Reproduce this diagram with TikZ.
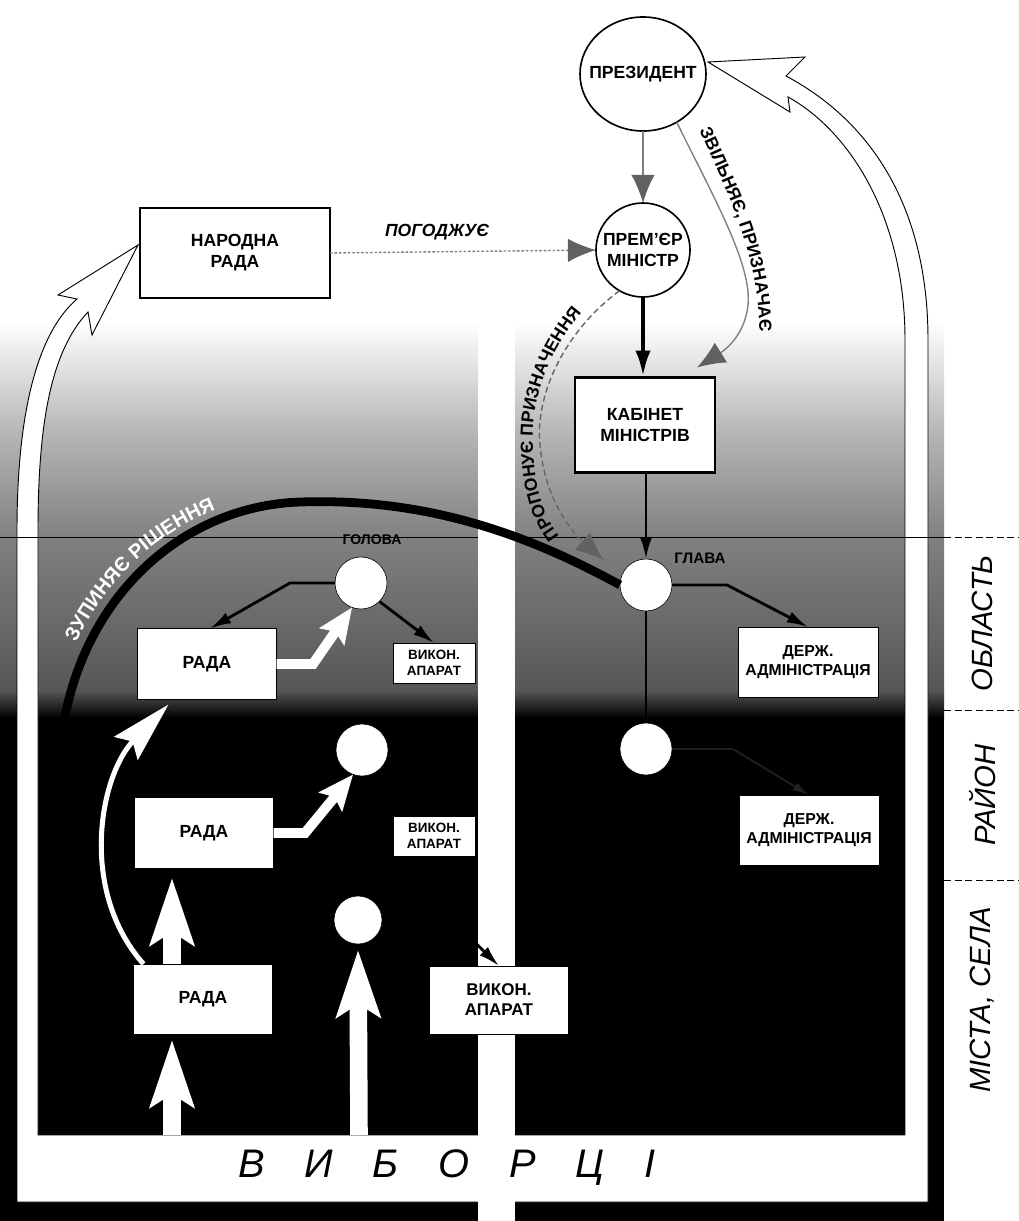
\documentclass[tikz,border=0pt]{standalone}
\usepackage{fontspec}
\setmainfont{Liberation Sans}
\usetikzlibrary{arrows.meta,calc,decorations.text,shapes.geometric}
\newcommand\PX{*0.03cm}
\newcommand\lblfont{\bfseries\fontsize{15}{18}\selectfont}
\newcommand\pathfont{\bfseries\fontsize{15}{15}\selectfont}
\newcommand\zupfont{\bfseries\fontsize{17}{17}\selectfont}
\tikzset{
  nb/.style={inner sep=0pt, outer sep=0pt, align=center},
  topbox/.style={nb, rectangle, draw=black, line width=2.4pt, fill=white, font=\lblfont},
  bigcirc/.style={nb, circle, draw=black, line width=1.4pt, fill=white, font=\lblfont},
  wdot/.style={nb, circle, draw=black, line width=0.5pt, fill=white, minimum size=52\PX},
  radabox/.style={nb, rectangle, draw=black, line width=0.5pt, fill=white, minimum width=139\PX, minimum height=71\PX, font=\bfseries\fontsize{15}{18}\selectfont},
  vykbox/.style={nb, rectangle, draw=black, line width=0.5pt, fill=white, minimum width=82\PX, minimum height=40\PX, font=\bfseries\fontsize{11.5}{13.5}\selectfont},
  derzhbox/.style={nb, rectangle, draw=black, line width=0.5pt, fill=white, minimum width=140\PX, minimum height=70\PX, font=\bfseries\fontsize{13.5}{16}\selectfont},
  tagtxt/.style={nb, font=\bfseries\fontsize{12}{12}\selectfont},
  lvltxt/.style={nb, rotate=90, font=\itshape\fontsize{25}{25}\selectfont},
  blkarr/.style={draw=black, line width=2.4pt, -{Latex[length=18pt,width=10pt]}},
  heavyarr/.style={draw=black, line width=4.2pt, -{Latex[length=23pt,width=13pt]}},
  grayarr/.style={draw=black!50, line width=1.2pt, -{Latex[length=24pt,width=20pt,color=black!62]}},
  dotarr/.style={grayarr, dash pattern=on 2.2pt off 1.6pt},
  dasharr/.style={grayarr, draw=black!60, dash pattern=on 5pt off 3pt},
  wfat/.style={white, line width=15pt, -{Stealth[length=57pt,width=37pt,inset=11pt,color=white]}},
  welbow/.style={white, line width=8.5pt, -{Stealth[length=30pt,width=25pt,inset=5pt,color=white]}},
  wthin/.style={white, line width=4.3pt, -{Stealth[length=52pt,width=28pt,inset=8pt,color=white]}},
  ribbon/.style={fill=white, draw=black, line width=0.8pt, line join=miter},
  levelline/.style={draw=black, line width=0.6pt},
  leveldash/.style={draw=black, line width=0.8pt, dash pattern=on 6pt off 3pt}
}
\begin{document}
\begin{tikzpicture}[x=0.03cm,y=-0.03cm]
\useasboundingbox (0,0) rectangle (1019,1221);
% background (landscape gradient)
\shade[top color=white, bottom color=black!28] (0,322) rectangle (944,430);
\shade[top color=black!28, bottom color=black!50] (0,430) rectangle (944,540);
\shade[top color=black!50, bottom color=black!66] (0,540) rectangle (944,690);
\shade[top color=black!66, bottom color=black] (0,690) rectangle (944,718);
\fill[black] (0,718) rectangle (944,1221);

% voters ribbon (U-shaped wide arrow)
\filldraw[ribbon] (138,245) -- (58,295) -- (77,299) .. controls (35,335) and (17,420) .. (17,530)
  -- (17,1202) -- (928,1202) -- (928,340) .. controls (928,200) and (865,118) .. (786,76)
  -- (805,57) -- (708,62) -- (790,112) -- (788,97) .. controls (848,130) and (905,215) .. (905,340)
  -- (905,1135) -- (38,1135) -- (38,530) .. controls (38,420) and (52,350) .. (88,312)
  -- (92,335) -- cycle;

% middle white bar
\fill[white] (478,322) rectangle (515,1221);

% level separators
\draw[levelline] (0,537) -- (478,537) (515,537) -- (944,537);
\draw[leveldash] (944,537) -- (1019,537);
\draw[leveldash] (944,710) -- (1019,710);
\draw[leveldash] (944,880) -- (1019,880);

% level labels
\node[lvltxt] (lobl) at (982,623) {ОБЛАСТЬ};
\node[lvltxt] (lray) at (982,795) {РАЙОН};
\node[lvltxt] (lmis) at (982,1000) {МІСТА, СЕЛА};

% voters
\node[nb, font=\itshape\fontsize{34}{34}\selectfont] (voters) at (447,1168)
  {В\hspace{1em}И\hspace{1em}Б\hspace{1em}О\hspace{1em}Р\hspace{1em}Ц\hspace{1em}І};
\coordinate (v1) at (172,1135);
\coordinate (v2) at (359,1135);

% top nodes
\node[nb, ellipse, draw=black, line width=1.4pt, fill=white, font=\lblfont,
  minimum width=126\PX, minimum height=114\PX] (pres) at (643,74) {\makebox[0pt]{ПРЕЗИДЕНТ}};
\node[bigcirc, minimum size=94\PX] (pm) at (643,250) {ПРЕМ\symbol{39}ЄР\\МІНІСТР};
\node[topbox, minimum width=190\PX, minimum height=90\PX] (narod) at (235,253) {НАРОДНА\\РАДА};
\node[topbox, minimum width=140\PX, minimum height=95\PX] (kab) at (645,425) {КАБІНЕТ\\МІНІСТРІВ};
\node[nb, font=\bfseries\itshape\fontsize{15}{15}\selectfont] (pogodj) at (437,232) {ПОГОДЖУЄ};

% right column
\node[wdot] (glava) at (646,585) {};
\node[tagtxt, font=\bfseries\fontsize{13}{13}\selectfont] (glavat) at (700,558) {ГЛАВА};
\node[derzhbox] (derzh1) at (808,662) {ДЕРЖ.\\АДМІНІСТРАЦІЯ};
\node[wdot] (c2) at (646,749) {};
\node[derzhbox] (derzh2) at (809,830) {ДЕРЖ.\\АДМІНІСТРАЦІЯ};

% left column
\node[radabox] (rada1) at (207,664) {РАДА};
\node[wdot] (holova) at (361,583) {};
\node[tagtxt] (holovat) at (372,540) {ГОЛОВА};
\node[vykbox] (vykon1) at (434,663) {ВИКОН.\\АПАРАТ};
\node[radabox] (rada2) at (204,833) {РАДА};
\node[wdot] (hc2) at (362,750) {};
\node[vykbox] (vykon2) at (434,836) {ВИКОН.\\АПАРАТ};
\node[radabox, minimum height=70\PX] (rada3) at (203,999) {РАДА};
\node[wdot, minimum size=48\PX] (c3) at (358,920) {};
\node[nb, rectangle, draw=black, line width=0.5pt, fill=white, minimum width=139\PX, minimum height=68\PX,
  font=\bfseries\fontsize{14.5}{17}\selectfont] (vykon3) at (499,1000) {ВИКОН.\\АПАРАТ};

% connectors: top
\draw[grayarr] (pres.south) -- (pm.north);
\draw[dotarr] (narod.east) -- (pm.west);
\draw[heavyarr] (pm.south) -- (pm.south |- kab.north);
\draw[grayarr] (pres.305) .. controls (715,200) and (752,265) .. (748,305)
  .. controls (745,335) and (725,350) .. ($(kab.north east)+(-18,-10)$);
\draw[dasharr] (pm.240) .. controls (560,335) and (535,400) .. (540,445)
  .. controls (545,500) and (572,532) .. ($(glava.150)+(-20,-12)$);
\path[decorate, decoration={text along path, text align=center,
  text={|\pathfont|ЗВІЛЬНЯЄ, ПРИЗНАЧАЄ}}]
  (692,114) .. controls (727,192) and (764,262) .. (759,350);
\path[decorate, decoration={text along path, text align=center,
  text={|\pathfont|ПРОПОНУЄ ПРИЗНАЧЕННЯ}}]
  (580,556) .. controls (547,532) and (534,495) .. (533,445) .. controls (530,395) and (554,335) .. (602,292);

% right column connectors
\draw[blkarr] (kab.south) -- (kab.south -| glava.north) -- (glava.north);
\draw[draw=black, line width=2.4pt] (glava.south) -- (c2.north);
\draw[blkarr] (glava.east) -- (727,585) -- (derzh1.north);
\draw[draw=black!88, line width=1.6pt, -{Latex[length=14pt,width=8pt]}] (c2.east) -- (733,749) -- (derzh2.north);

% stops decisions
\coordinate (zupend) at (62,735);
\draw[black, line width=7.5pt] (glava.west) .. controls (520,530) and (420,498) .. (300,502)
  .. controls (180,506) and (80,600) .. (zupend);
\path[decorate, decoration={text along path, text align=center, text color=white,
  text={|\zupfont|ЗУПИНЯЄ РІШЕННЯ}}]
  (51,730) .. controls (68,593) and (175,495) .. (305,491);

% left column connectors
\draw[blkarr] (holova.west) -- (290,583) -- ($(rada1.north)+(3,0)$);
\draw[blkarr] (holova.-45) -- (vykon1.north);
\draw[welbow] (rada1.east) -- (313,664) -- (holova.250);
\draw[welbow] (rada2.east) -- (305,833) -- (hc2.250);

% bottom connectors
\draw[wfat, shorten >=5pt] (v1) -- (v1 |- rada3.south);
\draw[wfat, shorten >=8pt] (rada3.north -| v1) -- (v1 |- rada2.south);
\draw[wfat, shorten >=5pt] (v2) -- (c3.south);
\draw[wthin] ($(rada3.north west)+(10,0)$) .. controls (78,890) and (100,775) .. ($(rada1.south west)+(31,5)$);
\draw[blkarr] (c3.east) -- (452,920) -- (vykon3.north);
\end{tikzpicture}
\end{document}
